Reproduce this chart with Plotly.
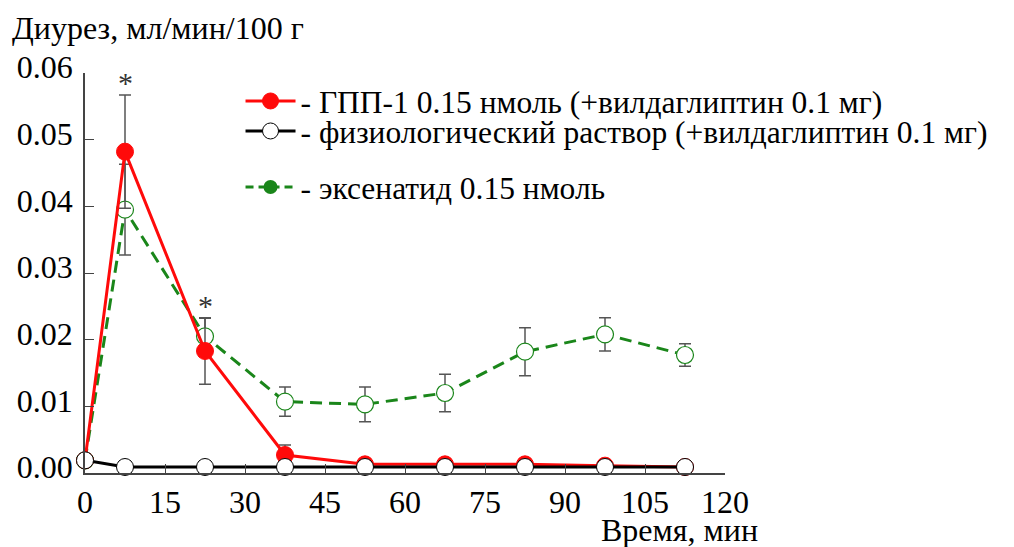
import plotly.graph_objects as go

time_min = [0, 7.5, 22.5, 37.5, 52.5, 67.5, 82.5, 97.5, 112.5]
glp1 = [0.0019, 0.0482, 0.0183, 0.0027, 0.0013, 0.0013, 0.0013, 0.0011, 0.0009]
glp1_err = [0.0003, 0.0085, 0.0050, 0.0015, 0.0003, 0.0003, 0.0003, 0.0003, 0.0003]
saline = [0.0019, 0.0009, 0.0009, 0.0009, 0.0009, 0.0009, 0.0009, 0.0009, 0.0009]
exenatide = [0.0019, 0.0395, 0.0205, 0.0107, 0.0103, 0.0120, 0.0182, 0.0208, 0.0177]
exenatide_err = [0.0003, 0.0068, 0.0027, 0.0022, 0.0026, 0.0028, 0.0036, 0.0025, 0.0017]

names = ["- ГПП-1 0.15 нмоль (+вилдаглиптин 0.1 мг)",
         "- физиологический раствор (+вилдаглиптин 0.1 мг)",
         "- эксенатид 0.15 нмоль"]
x_ticks = [0, 15, 30, 45, 60, 75, 90, 105, 120]
y_ticks = [0.00, 0.01, 0.02, 0.03, 0.04, 0.05, 0.06]
star_times = [7.5, 22.5]

FONT = "Liberation Serif"
FS = 32
LFS = 31.5
RED = "#ff0a0a"
GREEN = "#1a861a"
ERR = dict(type="data", color="#555555", thickness=1.5, width=6)

fig = go.Figure()
# exenatide (bottom layer)
fig.add_trace(go.Scatter(
    x=time_min, y=exenatide, mode="lines+markers", showlegend=False,
    line=dict(color=GREEN, width=3, dash="12px,7px"),
    marker=dict(size=17, color="white", line=dict(color=GREEN, width=1.2)),
    error_y=dict(array=exenatide_err, **ERR), cliponaxis=False))
# GLP-1
fig.add_trace(go.Scatter(
    x=time_min, y=glp1, mode="lines+markers", name=names[0], legend="legend",
    line=dict(color=RED, width=3),
    marker=dict(size=17, color=RED, line=dict(color=RED, width=1)),
    error_y=dict(array=glp1_err, **ERR), cliponaxis=False))
# saline
fig.add_trace(go.Scatter(
    x=time_min, y=saline, mode="lines+markers", name=names[1], legend="legend2",
    line=dict(color="black", width=3),
    marker=dict(size=17, color="white", line=dict(color="black", width=1)),
    cliponaxis=False))
# legend-only entry for exenatide (filled marker in legend)
fig.add_trace(go.Scatter(
    x=[None], y=[None], mode="lines+markers", name=names[2], legend="legend3",
    line=dict(color=GREEN, width=3, dash="8px,5px"),
    marker=dict(size=14, color=GREEN)))

for t in star_times:
    i = time_min.index(t)
    fig.add_annotation(x=t, y=glp1[i] + glp1_err[i], text="*", showarrow=False,
                       yanchor="bottom", yshift=-6,
                       font=dict(family=FONT, size=30, color="#333333"))

fig.add_annotation(x=-0.117, y=1.1125, xref="paper", yref="paper", text="Диурез, мл/мин/100 г",
                   showarrow=False, xanchor="left", yanchor="middle",
                   font=dict(family=FONT, size=FS, color="black"))
fig.add_annotation(x=1.0547, y=-0.1425, xref="paper", yref="paper", text="Время, мин",
                   showarrow=False, xanchor="right", yanchor="middle",
                   font=dict(family=FONT, size=FS, color="black"))

leg = dict(x=0.243, xanchor="left", yanchor="middle", bgcolor="rgba(0,0,0,0)",
           font=dict(family=FONT, size=LFS), itemwidth=50)
fig.update_layout(
    width=1014, height=547,
    margin=dict(l=85, r=289, t=73, b=74, autoexpand=False),
    paper_bgcolor="white", plot_bgcolor="white",
    font=dict(family=FONT, size=FS, color="black"),
    legend=dict(y=0.93, **leg),
    legend2=dict(y=0.855, **leg),
    legend3=dict(y=0.715, **leg),
    xaxis=dict(range=[0, 120], tickvals=x_ticks, ticktext=[str(v) for v in x_ticks],
               ticks="inside", ticklen=9, tickcolor="#444", showline=True,
               linecolor="#444", linewidth=1.5, showgrid=False, zeroline=False,
               automargin=False, tickfont=dict(family=FONT, size=FS)),
    yaxis=dict(range=[0, 0.06], tickvals=y_ticks, tickformat=".2f",
               ticks="inside", ticklen=9, tickcolor="#444", showline=True,
               linecolor="#444", linewidth=1.5, showgrid=False, zeroline=False,
               automargin=False, ticklabelstandoff=4, ticklabelshift=-6,
               tickfont=dict(family=FONT, size=FS)),
)

fig.write_html("out.html")
